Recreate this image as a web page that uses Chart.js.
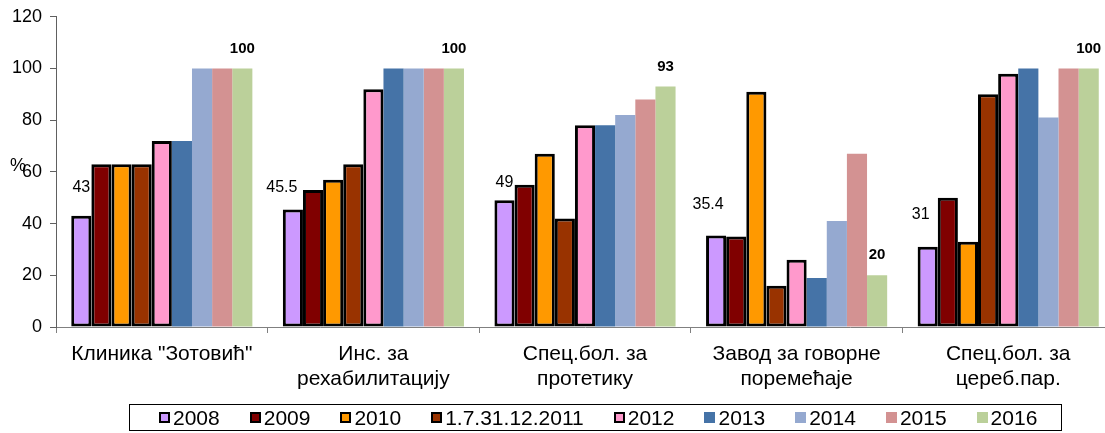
<!DOCTYPE html>
<html>
<head>
<meta charset="utf-8">
<script src="https://cdn.jsdelivr.net/npm/chart.js@4.4.0/dist/chart.umd.min.js"></script>
<style>
  html, body { margin: 0; padding: 0; background: #fff; overflow: hidden; }
  #wrap { position: relative; width: 1120px; height: 433px; overflow: hidden; }
  #myChart { position: absolute; left: 0; top: -2px; }
  #legend {
    position: absolute; left: 129px; top: 404px; width: 933px; height: 27px;
    border: 1px solid #000;
    display: flex; align-items: center; padding-left: 29px; box-sizing: border-box;
    font-family: "Liberation Sans", Arial, sans-serif; font-size: 21px; color: #000;
  }
  .item { display: flex; align-items: center; margin-right: 30px; }
  .sw { width: 11px; height: 11px; margin-right: 3px; box-sizing: border-box; }
</style>
</head>
<body>
<div id="wrap">
  <canvas id="myChart" width="1120" height="435"></canvas>
  <div id="legend"></div>
</div>
<script>
// categories and series
const categories = [
  ['Клиника "Зотовић"', ''],
  ['Инс. за', 'рехабилитацију'],
  ['Спец.бол. за', 'протетику'],
  ['Завод за говорне', 'поремећаје'],
  ['Спец.бол. за', 'цереб.пар.']
];
const seriesNames = ['2008', '2009', '2010', '1.7.31.12.2011', '2012', '2013', '2014', '2015', '2016'];
const v2008 = [43, 45.5, 49, 35.4, 31];
const v2009 = [63, 53, 55, 35, 50];
const v2010 = [63, 57, 67, 91, 33];
const v2011 = [63, 63, 42, 16, 90];
const v2012 = [72, 92, 78, 26, 98];
const v2013 = [72, 100, 78, 19, 100];
const v2014 = [100, 100, 82, 41, 81];
const v2015 = [100, 100, 88, 67, 100];
const v2016 = [100, 100, 93, 20, 100];
const yTicks = [0, 20, 40, 60, 80, 100, 120];

const allValues = [v2008, v2009, v2010, v2011, v2012, v2013, v2014, v2015, v2016];
const colors = ['#CC99FF', '#800000', '#FF9900', '#993300', '#FF99CC', '#4573A7', '#95A9D0', '#D39292', '#BBD09A'];
const outlined = [true, true, true, true, true, false, false, false, false];

// little nudges for the hand placed 2008 labels (relative to bar top centre)
const nudge2008 = [[0, -28], [-11, -22], [0, -18], [-8, -31], [-7, -32]];

Chart.defaults.font.family = '"Liberation Sans", Arial, sans-serif';
Chart.defaults.color = '#000';

const labelPlugin = {
  id: 'labels',
  afterDatasetsDraw(chart) {
    const ctx = chart.ctx;
    ctx.save();
    ctx.fillStyle = '#000';
    ctx.textAlign = 'center';
    ctx.textBaseline = 'middle';
    // 2008 values
    ctx.font = '16px "Liberation Sans", Arial, sans-serif';
    chart.getDatasetMeta(0).data.forEach((bar, i) => {
      ctx.fillText(String(v2008[i]), bar.x + nudge2008[i][0], bar.y + nudge2008[i][1]);
    });
    // 2016 values
    ctx.font = 'bold 15px "Liberation Sans", Arial, sans-serif';
    chart.getDatasetMeta(8).data.forEach((bar, i) => {
      ctx.fillText(String(v2016[i]), bar.x, bar.y - 20);
    });
    // % unit
    const ys = chart.scales.y;
    ctx.font = '18px "Liberation Sans", Arial, sans-serif';
    ctx.fillText('%', 18, ys.getPixelForValue(60) - 6);
    ctx.restore();
  }
};

const ctx = document.getElementById('myChart');
const myChart = new Chart(ctx, {
  type: 'bar',
  data: {
    labels: categories,
    datasets: seriesNames.map((name, k) => ({
      label: name,
      data: allValues[k],
      backgroundColor: colors[k],
      borderColor: outlined[k] ? '#000' : colors[k],
      borderWidth: outlined[k] ? 3 : 0,
      borderSkipped: false,
      barPercentage: 1.0,
      categoryPercentage: 0.856
    }))
  },
  options: {
    responsive: false,
    animation: false,
    layout: { padding: { top: 11, right: 6, left: 0, bottom: 0 } },
    plugins: { legend: { display: false }, tooltip: { enabled: false } },
    scales: {
      x: {
        grid: { offset: true, drawOnChartArea: false, drawTicks: true, tickLength: 6, color: '#808080' },
        border: { color: '#808080', width: 1 },
        ticks: { font: { size: 21, lineHeight: 1.18 }, padding: 9, maxRotation: 0, autoSkip: false },
        afterFit(s) { s.height = 106; }
      },
      y: {
        min: 0, max: 120,
        grid: { drawOnChartArea: false, drawTicks: true, tickLength: 6, color: '#606060' },
        border: { color: '#606060', width: 1 },
        afterBuildTicks(s) { s.ticks = yTicks.map(v => ({ value: v })); },
        ticks: { font: { size: 18 }, padding: 8 },
        afterFit(s) { s.width = 56; }
      }
    }
  },
  plugins: [labelPlugin]
});

// legend box
const legend = document.getElementById('legend');
seriesNames.forEach((name, k) => {
  const item = document.createElement('div');
  item.className = 'item';
  const sw = document.createElement('span');
  sw.className = 'sw';
  sw.style.background = colors[k];
  if (outlined[k]) sw.style.border = '2px solid #000';
  const t = document.createElement('span');
  t.textContent = name;
  item.appendChild(sw);
  item.appendChild(t);
  legend.appendChild(item);
});
</script>
</body>
</html>
